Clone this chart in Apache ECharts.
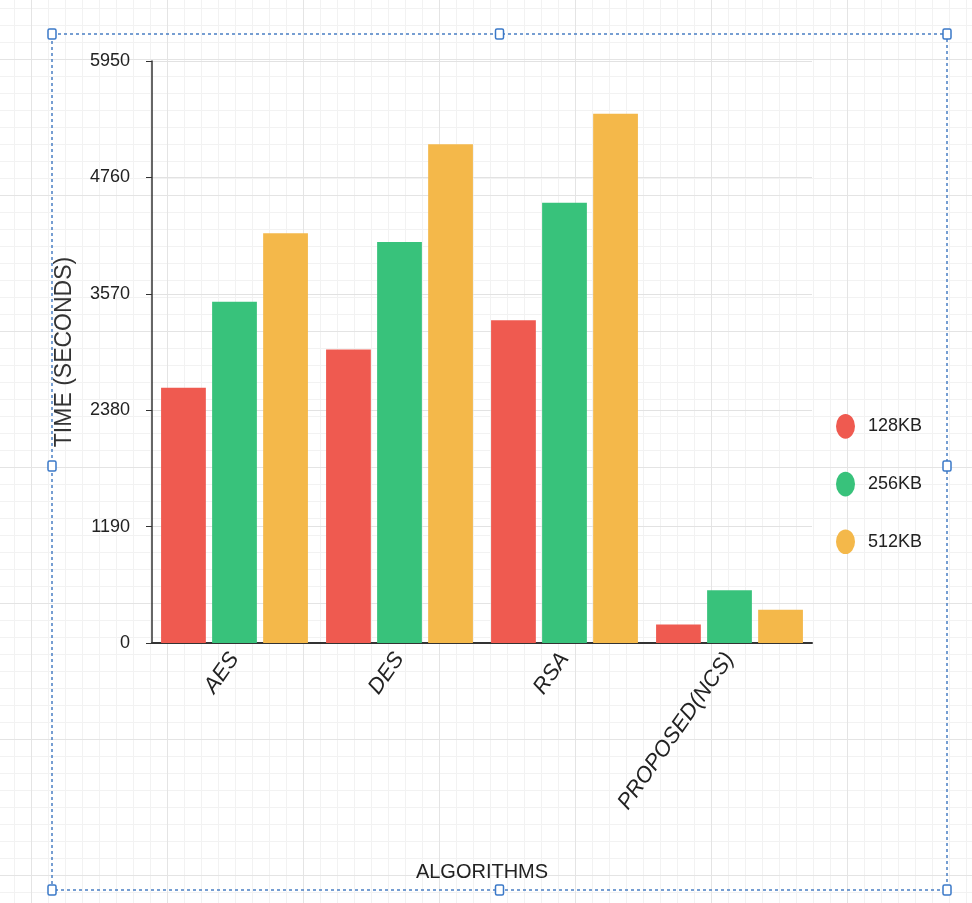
<!DOCTYPE html>
<html>
<head>
<meta charset="utf-8">
<script src="https://cdn.jsdelivr.net/npm/echarts@6/dist/echarts.min.js"></script>
<style>
  html, body { margin: 0; padding: 0; background: #fff; }
  #paper {
    width: 972px; height: 903px; position: relative;
    background-color: #fff;
    background-image:
      linear-gradient(to right, #e4e4e4 1px, transparent 1px),
      linear-gradient(to bottom, #e4e4e4 1px, transparent 1px),
      linear-gradient(to right, #f2f2f2 1px, transparent 1px),
      linear-gradient(to bottom, #f2f2f2 1px, transparent 1px);
    background-size: 136px 136px, 136px 136px, 17px 17px, 17px 17px;
    background-position: 31px 59px, 31px 59px, 31px 59px, 31px 59px;
  }
  #chart { position: absolute; left: 0; top: 0; width: 972px; height: 903px; }
</style>
</head>
<body>
<div id="paper"><div id="chart"></div></div>
<script>
// Encryption time by algorithm and file size
const categories = ['AES', 'DES', 'RSA', 'PROPOSED(NCS)'];
const seriesNames = ['128KB', '256KB', '512KB'];
const time128 = [2610, 3000, 3300, 190];
const time256 = [3490, 4100, 4500, 540];
const time512 = [4190, 5100, 5410, 340];
const yTicks = [0, 1190, 2380, 3570, 4760, 5950];
const colors = ['#ef5a50', '#38c27b', '#f4b84a'];

const chart = echarts.init(document.getElementById('chart'));

// selection frame with handles around the chart
const frame = { x1: 52, y1: 34, x2: 947, y2: 890 };
const handles = [];
const mx = (frame.x1 + frame.x2) / 2, my = 466;
[[frame.x1, frame.y1], [mx, frame.y1], [frame.x2, frame.y1],
 [frame.x1, my], [frame.x2, my],
 [frame.x1, frame.y2], [mx, frame.y2], [frame.x2, frame.y2]].forEach(function (p) {
  handles.push({
    type: 'rect', z: 100,
    shape: { x: p[0] - 4, y: p[1] - 5, width: 8, height: 10, r: 1.5 },
    style: { fill: '#fff', stroke: '#3a78c8', lineWidth: 1.5 }
  });
});

const ellipseIcon = 'path://M50,0 A50,65 0 1,1 50,130 A50,65 0 1,1 50,0 Z';

const makeSeries = (name, data, i) => ({
  name: name,
  type: 'bar',
  data: data,
  barGap: '14%',
  barCategoryGap: '11%',
  itemStyle: { color: colors[i] }
});

chart.setOption({
  animation: false,
  textStyle: { fontFamily: 'Liberation Sans, Arial, sans-serif' },
  grid: { left: 152, top: 61, right: 160, bottom: 260, containLabel: false },
  legend: {
    orient: 'vertical',
    left: 831, top: 409,
    itemGap: 33,
    itemWidth: 19, itemHeight: 25,
    icon: ellipseIcon,
    textStyle: { fontSize: 18, color: '#222', padding: [0, 0, 0, 8] },
    data: seriesNames
  },
  xAxis: {
    type: 'category',
    data: categories,
    name: 'ALGORITHMS',
    nameLocation: 'middle',
    nameGap: 219,
    nameTextStyle: { fontSize: 20, color: '#222' },
    axisLine: { lineStyle: { color: '#333', width: 2 } },
    axisTick: { show: false },
    splitLine: { show: false },
    axisLabel: {
      rotate: 55, fontSize: 22, color: '#222', fontStyle: 'italic',
      margin: 12, interval: 0
    }
  },
  yAxis: {
    type: 'value',
    min: yTicks[0],
    max: yTicks[yTicks.length - 1],
    interval: yTicks[1] - yTicks[0],
    name: 'TIME (SECONDS)',
    nameLocation: 'middle',
    nameGap: 76,
    nameRotate: 90,
    nameTextStyle: { fontSize: 23, color: '#333' },
    axisLine: { show: true, lineStyle: { color: '#333', width: 1.5 } },
    axisTick: { show: true, length: 6, lineStyle: { color: '#333' } },
    axisLabel: {
      fontSize: 18, color: '#222', margin: 22,
      formatter: function (v) { return String(v); }
    },
    splitLine: { show: true, lineStyle: { color: '#e2e2e2' } }
  },
  series: [
    makeSeries(seriesNames[0], time128, 0),
    makeSeries(seriesNames[1], time256, 1),
    makeSeries(seriesNames[2], time512, 2)
  ],
  graphic: [
    {
      type: 'rect', z: 99, silent: true,
      shape: { x: frame.x1, y: frame.y1, width: frame.x2 - frame.x1, height: frame.y2 - frame.y1 },
      style: { fill: 'none', stroke: '#4a7fc4', lineWidth: 1.5, lineDash: [3, 3] }
    }
  ].concat(handles)
});
</script>
</body>
</html>
